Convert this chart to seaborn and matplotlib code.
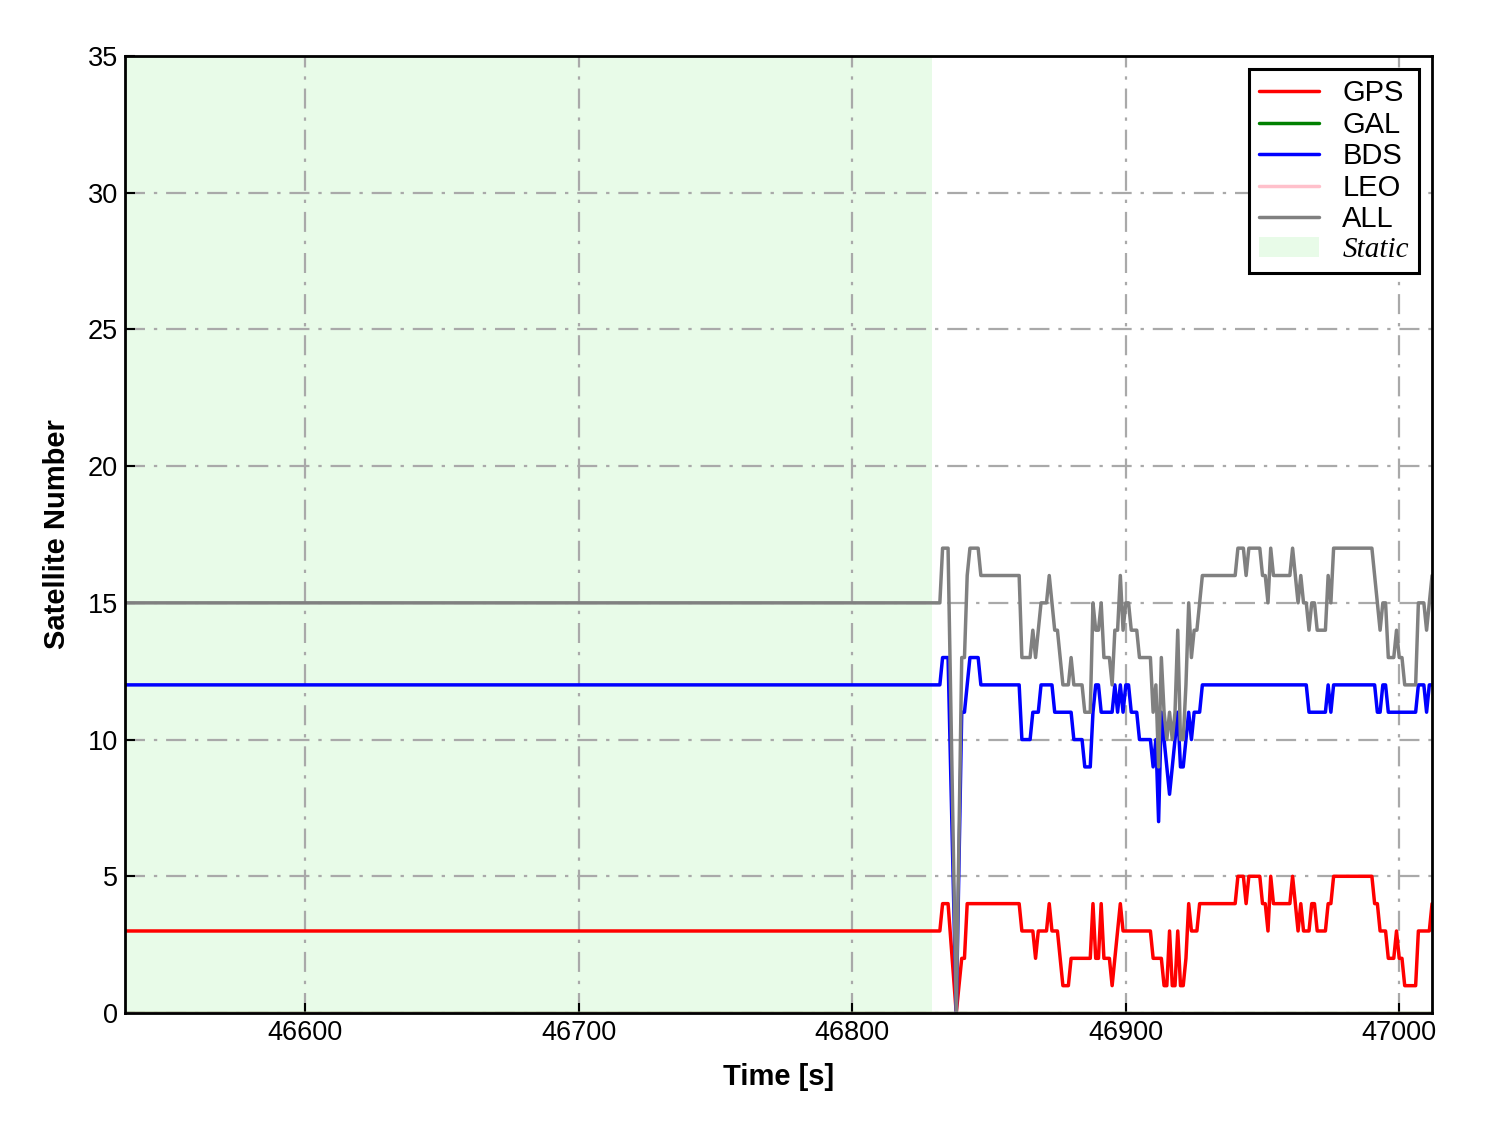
"""
Satellite count per constellation, static vs. kinematic segment.
"""

import matplotlib
matplotlib.use("Agg")
import matplotlib.pyplot as plt
import numpy as np
import pandas as pd
import seaborn as sns

# epochs [s]; gap after 46835 and 46838 = missing epochs
TIME = [46534, 46832, 46833, 46834, 46835, 46838, 46840, 46841, 46842] + list(range(46843, 47013))

GPS = [3, 3, 4, 4, 4, 0, 2, 2, 4,
       4, 4, 4, 4, 4, 4, 4, 4, 4, 4,
       4, 4, 4, 4, 4, 4, 4, 4, 4, 3,
       3, 3, 3, 3, 2, 3, 3, 3, 3, 4,
       3, 3, 3, 2, 1, 1, 1, 2, 2, 2,
       2, 2, 2, 2, 2, 4, 2, 2, 4, 2,
       2, 2, 1, 2, 3, 4, 3, 3, 3, 3,
       3, 3, 3, 3, 3, 3, 3, 2, 2, 2,
       2, 1, 1, 3, 1, 1, 3, 1, 1, 2,
       4, 3, 3, 3, 4, 4, 4, 4, 4, 4,
       4, 4, 4, 4, 4, 4, 4, 4, 5, 5,
       5, 4, 5, 5, 5, 5, 5, 4, 4, 3,
       5, 4, 4, 4, 4, 4, 4, 4, 5, 4,
       3, 4, 3, 3, 3, 4, 4, 3, 3, 3,
       3, 4, 4, 5, 5, 5, 5, 5, 5, 5,
       5, 5, 5, 5, 5, 5, 5, 5, 4, 4,
       3, 3, 3, 2, 2, 2, 3, 2, 2, 1,
       1, 1, 1, 1, 3, 3, 3, 3, 3, 4]

BDS = [12, 12, 13, 13, 13, 0, 11, 11, 12,
       13, 13, 13, 13, 12, 12, 12, 12, 12, 12,
       12, 12, 12, 12, 12, 12, 12, 12, 12, 10,
       10, 10, 10, 11, 11, 11, 12, 12, 12, 12,
       12, 11, 11, 11, 11, 11, 11, 11, 10, 10,
       10, 10, 9, 9, 9, 11, 12, 12, 11, 11,
       11, 11, 11, 12, 11, 12, 11, 12, 12, 11,
       11, 11, 10, 10, 10, 10, 10, 9, 10, 7,
       11, 10, 9, 8, 9, 10, 11, 9, 9, 10,
       11, 10, 11, 11, 11, 12, 12, 12, 12, 12,
       12, 12, 12, 12, 12, 12, 12, 12, 12, 12,
       12, 12, 12, 12, 12, 12, 12, 12, 12, 12,
       12, 12, 12, 12, 12, 12, 12, 12, 12, 12,
       12, 12, 12, 12, 11, 11, 11, 11, 11, 11,
       11, 12, 11, 12, 12, 12, 12, 12, 12, 12,
       12, 12, 12, 12, 12, 12, 12, 12, 12, 11,
       11, 12, 12, 11, 11, 11, 11, 11, 11, 11,
       11, 11, 11, 11, 12, 12, 12, 11, 12, 12]

ALL = [15, 15, 17, 17, 17, 0, 13, 13, 16,
       17, 17, 17, 17, 16, 16, 16, 16, 16, 16,
       16, 16, 16, 16, 16, 16, 16, 16, 16, 13,
       13, 13, 13, 14, 13, 14, 15, 15, 15, 16,
       15, 14, 14, 13, 12, 12, 12, 13, 12, 12,
       12, 12, 11, 11, 11, 15, 14, 14, 15, 13,
       13, 13, 12, 14, 14, 16, 14, 15, 15, 14,
       14, 14, 13, 13, 13, 13, 13, 11, 12, 9,
       13, 11, 10, 11, 10, 11, 14, 10, 10, 12,
       15, 13, 14, 14, 15, 16, 16, 16, 16, 16,
       16, 16, 16, 16, 16, 16, 16, 16, 17, 17,
       17, 16, 17, 17, 17, 17, 17, 16, 16, 15,
       17, 16, 16, 16, 16, 16, 16, 16, 17, 16,
       15, 16, 15, 15, 14, 15, 15, 14, 14, 14,
       14, 16, 15, 17, 17, 17, 17, 17, 17, 17,
       17, 17, 17, 17, 17, 17, 17, 17, 16, 15,
       14, 15, 15, 13, 13, 13, 14, 13, 13, 12,
       12, 12, 12, 12, 15, 15, 15, 14, 15, 16]

# no Galileo / LEO satellites tracked in this arc
GAL = [0] * len(TIME)
LEO = [0] * len(TIME)

SYSTEMS = ["GPS", "GAL", "BDS", "LEO", "ALL"]
COLORS = ["red", "green", "blue", "pink", "gray"]
STATIC_END = 46829

frames = []
for name, vals in zip(SYSTEMS, [GPS, GAL, BDS, LEO, ALL]):
    frames.append(pd.DataFrame({"time": TIME, "count": vals, "system": name}))
df = pd.concat(frames, ignore_index=True)

sns.set_style("white")
plt.rcParams["font.family"] = ["Liberation Sans", "DejaVu Sans"]
plt.rcParams["text.color"] = "black"
plt.rcParams["axes.labelcolor"] = "black"

fig, ax = plt.subplots(figsize=(14.88, 11.33), dpi=100)
fig.subplots_adjust(left=0.084, right=0.9624, bottom=0.1059, top=0.9506)

static = ax.axvspan(TIME[0], STATIC_END, color="lightgreen", alpha=0.2, lw=0, zorder=0)

sns.lineplot(data=df, x="time", y="count", hue="system", hue_order=SYSTEMS,
             palette=dict(zip(SYSTEMS, COLORS)), estimator=None, sort=False,
             lw=2.5, ax=ax, legend=False)

ax.set_xlim(TIME[0], TIME[-1])
ax.set_ylim(0, 35)
ax.set_xticks(np.arange(46600, 47001, 100))
ax.set_yticks(np.arange(0, 36, 5))

ax.grid(True, ls=(0, (9, 4, 1.5, 4)), color="darkgray", lw=1.6)
ax.set_axisbelow(True)

ax.tick_params(direction="in", length=7, width=1.5, labelsize=19.5, pad=5,
               bottom=True, left=True, colors="black")
for s in ax.spines.values():
    s.set_linewidth(2)
    s.set_color("black")

ax.set_xlabel("Time [s]", fontsize=21, fontweight="bold", labelpad=12)
ax.set_ylabel("Satellite Number", fontsize=21, fontweight="bold", labelpad=12)

lines = ax.get_lines()[:len(SYSTEMS)]
leg = ax.legend(lines + [static], SYSTEMS + ["Static"], loc="upper right",
                fontsize=21, frameon=True, fancybox=False, framealpha=1,
                edgecolor="black", handlelength=2.05, handletextpad=0.8,
                labelspacing=0.12, borderpad=0.35, borderaxespad=0.45)
leg.get_frame().set_linewidth(2.2)
for h in leg.get_lines():
    h.set_linewidth(2.5)
txt = leg.get_texts()[-1]
txt.set_fontfamily("Liberation Serif")
txt.set_fontstyle("italic")

fig.savefig("out.png", dpi=100)
